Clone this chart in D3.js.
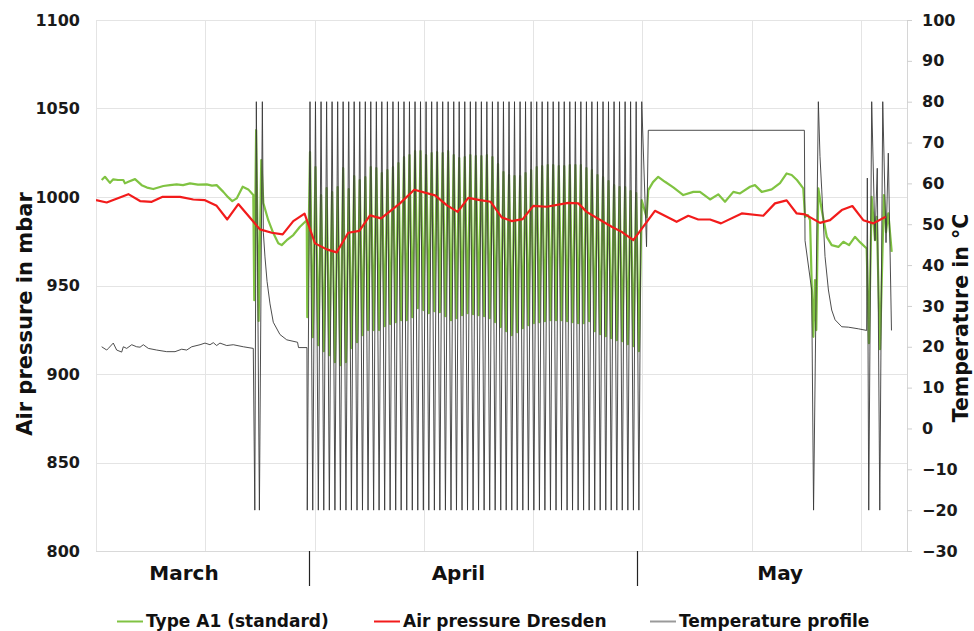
<!DOCTYPE html>
<html>
<head>
<meta charset="utf-8">
<script src="https://cdn.jsdelivr.net/npm/d3@7"></script>
<style>
  html, body { margin: 0; padding: 0; background: #ffffff; }
  svg { display: block; font-family: "DejaVu Sans", Verdana, sans-serif; font-weight: bold; }
</style>
</head>
<body>
<svg id="chart" width="974" height="631"></svg>
<script>
// ---- axis definitions (days counted from 1 March, 0 = 1 March 00:00) ----
const dayRange = [11.5, 85.7];
const pressureTicks = [800, 850, 900, 950, 1000, 1050, 1100];
const temperatureTicks = [-30, -20, -10, 0, 10, 20, 30, 40, 50, 60, 70, 80, 90, 100];
const gridDays = [11.5, 21.5, 31.5, 41.5, 51.5, 61.5, 71.5, 81.5];
const monthStartDays = [31, 61];
const monthNames = ["March", "April", "May"];
const monthLabelDays = [19.55, 44.65, 74.1];

// ---- legend ----
const seriesNames = ["Type A1 (standard)", "Air pressure Dresden", "Temperature profile"];

// ---- air pressure Dresden [day, mbar] ----
const dresdenPressure = [
  [11.5, 998.2], [12.48, 996.9], [14.46, 1001.6], [15.53, 997.7], [16.60, 997.3], [17.60, 1000.1],
  [19.19, 1000.1], [20.40, 998.6], [21.47, 998.2], [22.54, 995.0], [23.51, 987.3], [24.52, 996.0],
  [26.50, 981.7], [27.58, 979.8], [28.58, 978.9], [29.55, 986.4], [30.58, 990.6], [31.54, 973.8],
  [32.61, 970.4], [33.52, 968.7], [34.58, 979.8], [35.59, 980.9], [36.57, 989.6], [37.58, 987.9],
  [39.31, 996.4], [40.62, 1004.1], [42.52, 1000.9], [43.59, 995.4], [44.59, 991.6], [45.56, 999.5],
  [46.63, 998.2], [47.61, 997.3], [48.62, 988.5], [49.53, 986.4], [50.54, 987.5], [51.51, 995.0],
  [52.73, 994.5], [54.71, 996.7], [55.63, 996.4], [56.39, 991.6], [58.68, 983.2], [59.60, 980.3],
  [60.66, 975.6], [62.64, 992.2], [64.62, 986.0], [65.69, 989.4], [66.60, 987.3], [67.68, 987.3],
  [68.68, 985.1], [70.58, 990.7], [72.55, 989.4], [73.62, 996.4], [74.69, 998.1], [75.61, 990.7],
  [76.37, 990.2], [77.74, 985.4], [78.66, 986.9], [79.73, 992.6], [80.70, 994.9], [81.70, 986.9],
  [82.62, 985.1], [83.75, 988.8]
];

// ---- Type A1 sensor, March section [day, mbar] ----
const a1March = [
  [12.02, 1009.6], [12.32, 1011.4], [12.78, 1008.0], [13.08, 1010.0], [13.51, 1009.6], [14.00, 1009.6],
  [14.15, 1007.7], [14.46, 1008.6], [15.07, 1010.1], [15.68, 1006.7], [16.17, 1005.3], [16.74, 1004.5],
  [17.66, 1006.2], [18.27, 1006.7], [18.88, 1007.1], [19.46, 1006.7], [20.10, 1007.7], [20.83, 1007.0],
  [21.63, 1007.1], [22.11, 1006.4], [22.54, 1006.7], [23.15, 1002.9], [23.58, 999.9], [23.97, 997.7],
  [24.37, 999.2], [24.92, 1005.8], [25.43, 1004.3], [25.89, 1001.1], [25.98, 941.7], [26.15, 1037.8],
  [26.38, 930.0], [26.62, 1020.9], [26.81, 996.6], [27.26, 986.9], [27.72, 979.6], [28.18, 973.9],
  [28.49, 972.8], [28.95, 975.6], [29.55, 978.5], [30.16, 983.2], [30.78, 986.9]
];

// ---- Type A1 sensor, May section [day, mbar] ----
const a1May = [
  [61.87, 988.6], [62.03, 1003.9], [62.46, 1008.4], [62.94, 1011.4], [63.56, 1008.6], [64.32, 1005.4],
  [65.23, 1001.1], [66.15, 1002.9], [66.76, 1002.9], [67.68, 998.6], [68.43, 1001.5], [69.05, 997.3],
  [69.81, 1002.9], [70.42, 1002.0], [71.34, 1005.8], [71.79, 1006.7], [72.41, 1002.9], [73.32, 1004.3],
  [74.08, 1007.9], [74.69, 1013.3], [75.15, 1012.4], [75.63, 1009.6], [76.21, 1004.9], [76.37, 988.8],
  [76.64, 989.8], [76.83, 986.9], [76.98, 951.3], [77.13, 921.0], [77.28, 953.0], [77.40, 924.8],
  [77.59, 1004.9], [77.90, 992.6], [78.36, 977.5], [78.81, 972.8], [79.42, 971.8], [79.88, 974.7],
  [80.40, 972.8], [80.94, 977.5], [81.40, 974.5], [82.01, 970.9], [82.22, 917.4], [82.47, 1000.1],
  [82.77, 975.6], [82.93, 988.8], [83.23, 914.0], [83.59, 1001.1], [83.78, 980.2], [83.99, 990.7],
  [84.30, 969.0]
];

// ---- April climate cycling: one trough and one peak per cycle ----
const cycleTroughDay = [
  30.83, 31.33, 31.84, 32.34, 32.85, 33.36, 33.86, 34.37, 34.87, 35.38,
  35.88, 36.39, 36.90, 37.40, 37.91, 38.41, 38.92, 39.42, 39.93, 40.44,
  40.94, 41.45, 41.95, 42.46, 42.96, 43.47, 43.98, 44.48, 44.99, 45.49,
  46.00, 46.50, 47.01, 47.52, 48.02, 48.53, 49.03, 49.54, 50.04, 50.55,
  51.06, 51.56, 52.07, 52.57, 53.08, 53.59, 54.09, 54.60, 55.10, 55.61,
  56.11, 56.62, 57.13, 57.63, 58.14, 58.64, 59.15, 59.65, 60.16, 60.67,
  61.17
];
const cyclePeakDay = [
  31.08, 31.58, 32.09, 32.60, 33.10, 33.61, 34.11, 34.62, 35.12, 35.63,
  36.14, 36.64, 37.15, 37.65, 38.16, 38.67, 39.17, 39.68, 40.18, 40.69,
  41.19, 41.70, 42.21, 42.71, 43.22, 43.72, 44.23, 44.73, 45.24, 45.75,
  46.25, 46.76, 47.26, 47.77, 48.28, 48.78, 49.29, 49.79, 50.30, 50.80,
  51.31, 51.82, 52.32, 52.83, 53.33, 53.84, 54.34, 54.85, 55.36, 55.86,
  56.37, 56.87, 57.38, 57.89, 58.39, 58.90, 59.40, 59.91, 60.41, 60.92,
  61.43
];
const cycleTroughTemp = [
  -20, -20, -20, -20, -20, -20, -20, -20, -20, -20,
  -20, -20, -20, -20, -20, -20, -20, -20, -20, -20,
  -20, -20, -20, -20, -20, -20, -20, -20, -20, -20,
  -20, -20, -20, -20, -20, -20, -20, -20, -20, -20,
  -20, -20, -20, -20, -20, -20, -20, -20, -20, -20,
  -20, -20, -20, -20, -20, -20, -20, -20, -20, -20,
  -20
];
const cyclePeakTemp = [
  80, 80, 80, 80, 80, 80, 80, 80, 80, 80,
  80, 80, 80, 80, 80, 80, 80, 80, 80, 80,
  80, 80, 80, 80, 80, 80, 80, 80, 80, 80,
  80, 80, 80, 80, 80, 80, 80, 80, 80, 80,
  80, 80, 80, 80, 80, 80, 80, 80, 80, 80,
  80, 80, 80, 80, 80, 80, 80, 80, 80, 80,
  80
];
const cycleTroughA1 = [
  932.1, 920.8, 916.3, 912.9, 910.6, 906.7, 905.0, 906.7, 914.6, 918.0,
  921.9, 924.8, 924.8, 924.8, 927.0, 928.2, 929.3, 930.4, 930.4, 932.1,
  937.2, 936.1, 934.4, 935.5, 934.9, 932.7, 930.4, 931.5, 933.2, 934.4,
  933.8, 933.2, 932.7, 931.5, 929.3, 926.5, 924.2, 921.9, 923.6, 925.9,
  927.6, 928.7, 929.3, 929.8, 930.4, 930.4, 930.4, 929.8, 929.3, 928.7,
  928.7, 929.8, 924.2, 922.5, 921.4, 920.2, 919.1, 918.5, 916.8, 915.7,
  912.9
];
const cyclePeakA1 = [
  1025.4, 1016.9, 1001.1, 1005.0, 1002.8, 1005.6, 1016.3, 1004.5, 1011.8, 1009.6,
  1011.2, 1016.9, 1016.3, 1013.5, 1015.2, 1016.9, 1019.2, 1022.6, 1023.7, 1025.9,
  1025.9, 1023.7, 1024.8, 1025.4, 1024.8, 1025.9, 1023.7, 1022.0, 1022.6, 1023.7,
  1023.1, 1023.1, 1023.7, 1022.6, 1018.6, 1014.1, 1012.4, 1011.8, 1011.8, 1013.5,
  1015.2, 1016.9, 1017.5, 1018.0, 1018.0, 1017.5, 1017.5, 1018.0, 1018.0, 1018.0,
  1016.3, 1015.2, 1012.4, 1011.2, 1009.0, 1006.7, 1005.6, 1005.6, 1003.3, 1002.2,
  998.2
];

// ---- temperature profile outside the cycling block [day, degC] ----
const tempMarch = [
  [12.02, 20.0], [12.48, 19.2], [12.63, 19.6], [13.08, 20.9], [13.39, 19.2], [13.85, 18.7],
  [14.00, 20.0], [14.31, 19.6], [14.77, 20.5], [15.22, 20.0], [15.53, 19.9], [15.83, 20.5],
  [16.29, 19.6], [17.05, 19.2], [17.97, 18.8], [18.73, 18.8], [19.34, 19.4], [19.80, 19.2],
  [20.26, 20.0], [21.02, 20.5], [21.47, 20.9], [21.93, 20.5], [22.23, 21.0], [22.54, 20.3],
  [22.84, 20.9], [23.46, 20.3], [24.06, 20.5], [24.98, 20.0], [25.89, 19.6], [26.03, -20],
  [26.17, 80], [26.45, -20], [26.72, 80], [26.81, 48], [26.96, 42], [27.15, 36],
  [27.42, 30.5], [27.72, 26], [28.33, 23], [28.95, 21.7], [29.94, 21.1], [30.03, 19.8],
  [30.80, 19.8]
];
const tempMay = [
  [61.87, 44.5], [62.03, 73], [76.31, 73], [76.37, 46], [76.98, 33.9], [77.15, -20],
  [77.59, 80], [77.74, 66.6], [77.90, 58.4], [78.20, 42.1], [78.51, 33.9], [78.81, 29],
  [79.12, 26.6], [79.73, 24.9], [80.33, 24.8], [81.25, 24.4], [82.01, 24.0], [82.07, 61.3],
  [82.20, -20], [82.47, 80], [82.77, 46], [82.98, 63.7], [83.21, -20], [83.48, 80],
  [83.78, 45.5], [83.99, 67.4], [84.28, 24]
];

// ---- colours ----
const colA1 = "#80c342";
const colDresden = "#f21b1b";
const colTemp = "#3a3a3a";
const colTempKey = "#9a9a9a";

// ---------------------------------------------------------------
const plot = { left: 96, right: 907, top: 20, bottom: 551 };
const svg = d3.select("#chart");

const x = d3.scaleLinear().domain(dayRange).range([plot.left, plot.right]);
const yP = d3.scaleLinear().domain([800, 1100]).range([plot.bottom, plot.top]);
const yT = d3.scaleLinear().domain([-30, 100]).range([plot.bottom, plot.top]);

// cycling block interleaved as trough, peak, trough, peak ...
const cycleA1 = [], cycleTemp = [];
cyclePeakDay.forEach((d, i) => {
  cycleA1.push([cycleTroughDay[i], cycleTroughA1[i]], [d, cyclePeakA1[i]]);
  cycleTemp.push([cycleTroughDay[i], cycleTroughTemp[i]], [d, cyclePeakTemp[i]]);
});
const a1Series = a1March.concat(cycleA1, a1May);
const tempSeries = tempMarch.concat(cycleTemp, tempMay);

// gridlines
const grid = svg.append("g").attr("stroke", "#e4e4e4").attr("stroke-width", 1);
grid.selectAll("line.h").data(pressureTicks).join("line")
  .attr("class", "h")
  .attr("x1", plot.left).attr("x2", plot.right)
  .attr("y1", d => Math.round(yP(d)) + 0.5).attr("y2", d => Math.round(yP(d)) + 0.5);
grid.selectAll("line.v").data(gridDays).join("line")
  .attr("class", "v")
  .attr("x1", d => Math.round(x(d)) + 0.5).attr("x2", d => Math.round(x(d)) + 0.5)
  .attr("y1", plot.top).attr("y2", plot.bottom);

// left axis labels
const leftAxis = svg.append("g")
  .attr("transform", `translate(${plot.left},0)`)
  .call(d3.axisLeft(yP).tickValues(pressureTicks).tickFormat(d3.format("d"))
    .tickSize(0).tickPadding(16));
leftAxis.select(".domain").remove();
leftAxis.selectAll("text")
  .attr("font-family", "DejaVu Sans, Verdana, sans-serif")
  .attr("font-weight", "bold").attr("font-size", 16).attr("fill", "#1a1a1a");

// right axis
const rightAxis = svg.append("g")
  .attr("transform", `translate(${plot.right},0)`)
  .call(d3.axisRight(yT).tickValues(temperatureTicks).tickFormat(d3.format("d"))
    .tickSizeInner(5).tickSizeOuter(0).tickPadding(10));
rightAxis.select(".domain").attr("stroke", "#d6d6d6");
rightAxis.selectAll(".tick line").attr("stroke", "#cfcfcf");
rightAxis.selectAll("text")
  .attr("font-family", "DejaVu Sans, Verdana, sans-serif")
  .attr("font-weight", "bold").attr("font-size", 16).attr("fill", "#1a1a1a");

// bottom axis line
svg.append("line")
  .attr("x1", plot.left).attr("x2", plot.right)
  .attr("y1", plot.bottom + 0.5).attr("y2", plot.bottom + 0.5)
  .attr("stroke", "#d9d9d9");

// data lines
svg.append("clipPath").attr("id", "plotclip").append("rect")
  .attr("x", plot.left).attr("y", plot.top - 2)
  .attr("width", plot.right - plot.left).attr("height", plot.bottom - plot.top + 4);

const lineP = d3.line().x(d => x(d[0])).y(d => yP(d[1]));
const lineT = d3.line().x(d => x(d[0])).y(d => yT(d[1]));

const marks = svg.append("g").attr("clip-path", "url(#plotclip)");
marks.append("path").datum(a1Series)
  .attr("d", lineP).attr("fill", "none")
  .attr("stroke", colA1).attr("stroke-width", 2.2).attr("stroke-linejoin", "round");
marks.append("path").datum(tempSeries)
  .attr("d", lineT).attr("fill", "none")
  .attr("stroke", colTemp).attr("stroke-width", 1).attr("stroke-opacity", 0.9)
  .attr("stroke-linejoin", "miter");
marks.append("path").datum(dresdenPressure)
  .attr("d", lineP).attr("fill", "none")
  .attr("stroke", colDresden).attr("stroke-width", 2.2).attr("stroke-linejoin", "round");

// month separators and labels
svg.append("g").selectAll("line").data(monthStartDays).join("line")
  .attr("x1", d => Math.round(x(d)) + 0.5).attr("x2", d => Math.round(x(d)) + 0.5)
  .attr("y1", plot.bottom).attr("y2", plot.bottom + 35)
  .attr("stroke", "#222").attr("stroke-width", 1.2);
svg.append("g").selectAll("text").data(monthNames).join("text")
  .attr("x", (d, i) => x(monthLabelDays[i])).attr("y", 580)
  .attr("text-anchor", "middle").attr("font-size", 20).attr("fill", "#111")
  .text(d => d);

// axis titles
svg.append("text")
  .attr("transform", "translate(32,314) rotate(-90)")
  .attr("text-anchor", "middle").attr("font-size", 21).attr("fill", "#111")
  .text("Air pressure in mbar");
svg.append("text")
  .attr("transform", "translate(968,318) rotate(-90)")
  .attr("text-anchor", "middle").attr("font-size", 20.5).attr("fill", "#111")
  .text("Temperature in °C");

// legend
const legendItems = [
  { name: seriesNames[0], color: colA1, x0: 117 },
  { name: seriesNames[1], color: colDresden, x0: 374 },
  { name: seriesNames[2], color: colTempKey, x0: 650 }
];
const legend = svg.append("g");
legendItems.forEach(it => {
  legend.append("line")
    .attr("x1", it.x0).attr("x2", it.x0 + 26)
    .attr("y1", 621.5).attr("y2", 621.5)
    .attr("stroke", it.color).attr("stroke-width", 2);
  legend.append("text")
    .attr("x", it.x0 + 29).attr("y", 626.5)
    .attr("font-size", 17).attr("fill", "#111")
    .text(it.name);
});
</script>
</body>
</html>
